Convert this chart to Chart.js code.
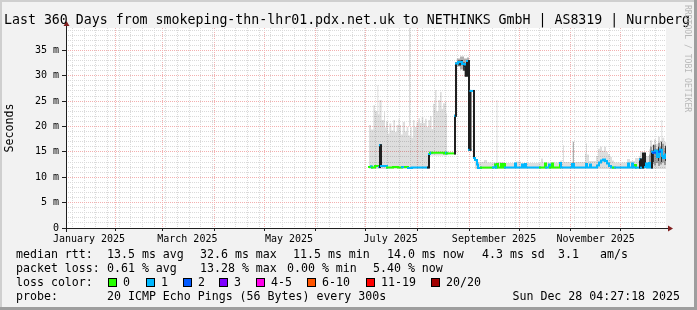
<!DOCTYPE html>
<html>
<head>
<meta charset="utf-8">
<script src="https://cdn.jsdelivr.net/npm/chart.js@4/dist/chart.umd.min.js"></script>
<style>
  html, body { margin: 0; padding: 0; background: #f2f2f2; }
  #wrap { width: 697px; height: 310px; }
</style>
</head>
<body>
<div id="wrap"><canvas id="smokeChart" width="697" height="310"></canvas></div>
<script>
// x values are days since the start of the window (Jan 2 2025 04:27:18), y in ms

// median rtt, coloured by loss (count of lost pings out of 20)
const medDay  = [181.8, 183.0, 183.6, 185.4, 187.8, 188.4, 188.4, 189.0, 189.0, 192.6, 196.2, 199.2, 201.6, 203.4, 205.2, 207.6, 217.2, 217.8,
                 218.4, 219.0, 219.6, 226.8, 228.0, 228.6, 233.4, 233.4, 234.0, 234.0, 235.2, 237.6, 239.4, 240.0, 240.6,
                 241.8, 241.8, 242.7, 242.7, 244.8, 244.8, 245.4, 246.6, 247.2, 249.0, 256.2, 257.4, 258.0, 258.6, 259.2, 261.0, 261.6,
                 262.8, 263.4, 269.4, 270.0, 273.6, 274.2, 275.4, 276.0, 284.4, 287.4, 288.0, 289.8, 290.4, 291.6, 292.2, 296.4, 297.0,
                 303.6, 304.8, 312.0, 312.6, 314.4, 315.0, 318.6, 319.8, 321.0, 322.2, 323.4, 324.6, 325.8, 327.0, 328.2, 329.4, 337.2,
                 337.8, 339.6, 340.2, 341.4, 342.0, 344.4, 344.4, 345.0, 345.0, 346.2, 346.2, 347.4, 348.0, 348.6, 349.8, 350.4, 351.6,
                 351.6, 352.2, 353.4, 354.6, 355.8, 356.4, 357.6, 358.2, 359.4, 360.4];
const medRtt  = [12.0, 12.1, 11.9, 12.2, 12.0, 12.0, 16.3, 16.3, 12.2, 11.9, 12.0, 11.9, 12.0, 12.0, 11.8, 11.9, 11.9, 14.6,
                 14.8, 14.8, 14.8, 14.7, 14.8, 14.7, 14.7, 22.1, 22.1, 32.4, 32.7, 32.3, 31.8, 30.0, 32.9,
                 32.9, 15.4, 15.4, 27.0, 27.0, 13.8, 13.4, 12.5, 11.8, 11.9, 11.9, 12.5, 11.9, 12.6, 11.9, 12.6, 11.9,
                 12.6, 11.9, 12.7, 11.9, 12.5, 11.9, 12.6, 11.9, 11.9, 12.7, 11.9, 12.5, 11.9, 12.7, 11.9, 12.8, 11.9,
                 12.6, 11.9, 12.6, 11.9, 12.5, 11.9, 12.3, 12.9, 13.3, 13.5, 13.2, 12.7, 12.2, 11.9, 11.9, 11.9, 12.7,
                 11.9, 12.7, 11.9, 12.4, 11.9, 11.9, 13.5, 13.5, 11.9, 11.9, 14.7, 12.0, 12.7, 11.9, 12.8, 11.9, 11.9,
                 15.0, 14.8, 15.2, 14.0, 15.0, 15.4, 14.2, 13.8, 14.5, 14.5];
const medLoss = [0, 1, 0, 0, 1, 1, 1, 1, 1, 0, 0, 0, 1, 0, 1, 1, 1, 1,
                 0, 1, 0, 0, 1, 0, 0, 1, 1, 1, 1, 1, 1, 0, 1,
                 1, 1, 1, 1, 1, 1, 1, 1, 1, 0, 1, 0, 1, 0, 0, 0, 0,
                 0, 1, 1, 1, 1, 1, 1, 1, 0, 0, 1, 1, 0, 0, 0, 1, 1,
                 1, 1, 1, 1, 1, 1, 1, 1, 1, 1, 1, 1, 1, 1, 0, 1, 1,
                 1, 1, 1, 0, 1, 1, 1, 1, 1, 1, 1, 1, 1, 1, 1, 1, 1,
                 1, 2, 1, 1, 2, 1, 1, 1, 1, 1];

// light smoke (spread of all pings)
const lightDay = [181.8, 183.0, 184.4, 185.4, 186.8, 187.4, 188.0, 189.4, 190.8, 191.4, 192.0, 193.2, 194.0, 195.2, 196.4, 197.4,
                  198.4, 199.5, 200.1, 201.0, 202.0, 203.4, 204.4, 205.4, 206.6, 207.4, 208.2, 209.1, 210.3, 211.4, 212.4, 213.4,
                  214.4, 215.4, 216.4, 217.4, 218.4, 219.4, 220.2, 221.4, 222.3, 223.4, 224.4, 225.4, 226.2, 227.4, 228.2, 228.8, 229.0,
                  245.4, 247.2, 250.8, 252.6, 258.3, 258.9, 263.4, 270.0, 273.0, 285.0, 286.2, 296.4, 297.6, 298.2, 298.8, 304.8,
                  311.4, 312.0, 312.6, 313.8, 318.0, 319.2, 320.4, 321.6, 322.8, 324.0, 325.2, 326.4, 327.6, 328.8, 336.6, 338.4,
                  341.4, 343.8, 344.4, 345.6, 347.4, 349.8, 350.4, 351.6, 352.8, 354.0, 355.2, 356.4, 357.2, 357.8, 359.0, 360.0, 360.6];
const lightLo  = [11.6, 11.6, 11.6, 11.6, 11.6, 11.6, 11.6, 11.6, 11.6, 11.6, 11.6, 11.6, 11.6, 11.6, 11.6, 11.6,
                  11.6, 11.6, 11.6, 11.6, 11.6, 11.6, 11.6, 11.6, 11.6, 11.6, 11.6, 11.6, 11.6, 11.6, 11.6, 11.6,
                  11.6, 11.6, 11.6, 11.6, 14.3, 14.3, 14.3, 14.3, 14.3, 14.3, 14.3, 14.3, 14.3, 14.3, 14.3, 14.3, null,
                  11.6, 11.6, 11.6, 11.6, 11.6, 11.6, 11.6, 11.6, 11.6, 11.6, 11.6, 11.6, 11.6, 11.6, 11.6, 11.6,
                  11.6, 11.6, 11.6, 11.6, 11.6, 11.6, 11.6, 11.6, 11.6, 11.6, 11.6, 11.6, 11.6, 11.6, 11.6, 11.6,
                  11.6, 11.6, 11.6, 11.6, 11.6, 11.6, 11.6, 11.6, 11.6, 11.6, 11.6, 11.6, 11.6, 11.6, 11.6, 11.6, 11.6];
const lightHi  = [20.3, 19.4, 24.2, 23.0, 28.1, 22.4, 25.2, 21.3, 22.9, 19.8, 21.0, 18.6, 20.6, 19.2, 21.3, 18.9,
                  20.3, 21.5, 20.3, 18.4, 20.9, 19.0, 19.9, 18.2, 19.9, 17.8, 21.3, 19.9, 20.8, 21.6, 20.7, 21.9,
                  20.7, 21.5, 19.9, 21.3, 22.0, 19.5, 24.5, 27.2, 23.0, 25.2, 26.8, 23.5, 24.6, 24.9, 22.6, 22.6, null,
                  13.6, 13.0, 13.4, 12.9, 25.2, 13.0, 12.8, 13.1, 12.8, 13.7, 12.9, 13.3, 13.0, 16.3, 13.0, 13.0,
                  14.7, 16.7, 14.5, 13.2, 14.2, 15.6, 16.0, 15.2, 16.0, 15.0, 14.6, 14.0, 13.3, 12.9, 13.6, 13.2,
                  13.8, 14.2, 15.0, 13.8, 14.2, 15.5, 17.3, 16.4, 17.5, 16.6, 18.0, 17.2, 21.3, 17.8, 17.0, 16.4, 16.4];

// medium smoke
const midDay = [206.0, 206.6, 206.7, 234.4, 236.4, 238.8, 240.6, 241.8, 241.9,
                349.8, 350.4, 351.6, 352.8, 354.0, 355.2, 356.4, 357.6, 358.8, 360.0, 360.6];
const midLo  = [20.0, 20.0, null, 31.8, 31.2, 29.8, 31.6, 31.6, null,
                12.4, 12.2, 12.6, 12.3, 12.8, 12.2, 12.5, 12.9, 12.4, 12.6, 12.6];
const midHi  = [39.4, 39.4, null, 33.4, 33.8, 33.4, 33.6, 33.6, null,
                14.5, 16.0, 15.2, 16.4, 15.6, 16.8, 16.0, 16.6, 15.8, 16.0, 16.0];

// dense smoke near the median
const darkDay = [235.2, 237.0, 238.2, 239.4, 239.5, 296.4, 297.0, 297.1, 304.0, 304.6, 304.7,
                 352.2, 352.8, 352.9, 355.2, 355.8, 355.9, 357.0, 357.6, 357.7, 359.4, 360.0];
const darkLo  = [32.0, 32.2, 31.0, 31.0, null, 12.0, 12.0, null, 12.0, 12.0, null,
                 13.0, 13.0, null, 13.2, 13.2, null, 13.0, 13.0, null, 13.2, 13.2];
const darkHi  = [33.0, 33.1, 32.6, 32.6, null, 13.0, 13.0, null, 17.0, 17.0, null,
                 16.4, 16.4, null, 16.0, 16.0, null, 17.0, 17.0, null, 16.2, 16.2];

const lossColors = ['#26ff00', '#00b8ff', '#0059ff', '#7e00ff', '#ff00ea', '#ff5500', '#ff0000', '#a10000'];
const lossLabels = ['0', '1', '2', '3', '4-5', '6-10', '11-19', '20/20'];

// axis labels
const startMs = Date.UTC(2025, 0, 2, 4, 27, 18);
const dayOf = (m, d) => (Date.UTC(2025, m, d) - startMs) / 864e5;
const xLabelText = ['January 2025', 'March 2025', 'May 2025', 'July 2025', 'September 2025', 'November 2025'];
const xLabelDay = [0, 2, 4, 6, 8, 10].map(m => dayOf(m, 16));
const monthLines = [1, 2, 3, 4, 5, 6, 7, 8, 9, 10, 11].map(m => dayOf(m, 1));
const weekLines = [];
for (let d = dayOf(0, 6); d < 360; d += 7) weekLines.push(d);

const GRID = '#dadada';
const MGRID = '#f3b0b0';
const AXIS = '#1f1f1f';
const ARROW = '#801f1f';
const MONO = '"DejaVu Sans Mono", monospace';

const xKind = new Map();
weekLines.forEach(d => xKind.set(d.toFixed(2), 'week'));
monthLines.forEach(d => xKind.set(d.toFixed(2), 'month'));
xLabelDay.forEach((d, i) => xKind.set(d.toFixed(2), 'label' + i));
const kindOf = v => xKind.get(v.toFixed(2)) || '';

function pts(days, vals) {
  return days.map((x, i) => ({ x: x, y: vals[i] }));
}

const frame = {
  id: 'frame',
  beforeDraw(chart) {
    const c = chart.ctx, a = chart.chartArea, W = chart.width, H = chart.height;
    c.save();
    c.fillStyle = '#f2f2f2';
    c.fillRect(0, 0, W, H);
    c.fillStyle = '#cfcfcf';
    c.fillRect(0, 0, W, 2);
    c.fillRect(0, 0, 2, H);
    c.fillStyle = '#9e9e9e';
    c.fillRect(0, H - 3, W, 3);
    c.fillRect(W - 3, 0, 3, H);
    c.fillStyle = '#ffffff';
    c.fillRect(a.left, a.top, a.right - a.left, a.bottom - a.top);
    c.restore();
  },
  afterDraw(chart) {
    const c = chart.ctx, a = chart.chartArea;
    c.save();
    // axes
    c.strokeStyle = AXIS;
    c.lineWidth = 1;
    c.beginPath();
    c.moveTo(a.left - 4, a.bottom + 0.5);
    c.lineTo(a.right + 3, a.bottom + 0.5);
    c.moveTo(a.left + 0.5, a.bottom + 4);
    c.lineTo(a.left + 0.5, a.top - 3);
    c.stroke();
    c.fillStyle = ARROW;
    c.beginPath();
    c.moveTo(a.right + 2, a.bottom - 2.5);
    c.lineTo(a.right + 7, a.bottom + 0.5);
    c.lineTo(a.right + 2, a.bottom + 3.5);
    c.closePath();
    c.fill();
    c.beginPath();
    c.moveTo(a.left - 2.5, a.top - 2);
    c.lineTo(a.left + 0.5, a.top - 7);
    c.lineTo(a.left + 3.5, a.top - 2);
    c.closePath();
    c.fill();

    // title
    c.fillStyle = '#000';
    c.textBaseline = 'alphabetic';
    c.textAlign = 'left';
    c.font = '13.25px ' + MONO;
    c.fillText('Last 360 Days from smokeping-thn-lhr01.pdx.net.uk to NETHINKS GmbH | AS8319 | Nurnberg', 4, 23.5);

    // legend
    c.font = '11.6px ' + MONO;
    const row = (y, items) => items.forEach(([x, t]) => c.fillText(t, x, y));
    row(258, [[16, 'median rtt:'], [107, '13.5 ms avg'], [200, '32.6 ms max'], [293, '11.5 ms min'],
              [387, '14.0 ms now'], [482, '4.3 ms sd'], [558, '3.1'], [600, 'am/s']]);
    row(272, [[16, 'packet loss:'], [107, '0.61 % avg'], [200, '13.28 % max'], [287, '0.00 % min'], [373, '5.40 % now']]);
    row(286, [[16, 'loss color:']]);
    const boxX = [108, 146, 183, 219, 256, 307, 366, 431];
    boxX.forEach((x, i) => {
      c.fillStyle = lossColors[i];
      c.fillRect(x, 278, 8, 8);
      c.strokeStyle = '#000';
      c.strokeRect(x + 0.5, 278.5, 8, 8);
      c.fillStyle = '#000';
      c.fillText(lossLabels[i], x + 15, 286);
    });
    row(300, [[16, 'probe:'], [107, '20 ICMP Echo Pings (56 Bytes) every 300s']]);
    c.textAlign = 'right';
    c.fillText('Sun Dec 28 04:27:18 2025', 680, 300);

    // watermark
    c.translate(687, 5);
    c.rotate(Math.PI / 2);
    c.textAlign = 'left';
    c.textBaseline = 'middle';
    c.fillStyle = '#b8b8b8';
    c.font = '8.1px ' + MONO;
    c.fillText('RRDTOOL / TOBI OETIKER', 0, 0);
    c.restore();
  }
};

const band = (order, fillColor) => ({
  order: order, stepped: true, pointRadius: 0, borderWidth: 0, spanGaps: false,
  borderColor: 'rgba(0,0,0,0)', backgroundColor: fillColor
});

new Chart(document.getElementById('smokeChart'), {
  type: 'line',
  data: {
    datasets: [
      {
        label: 'median', data: pts(medDay, medRtt), order: 0, stepped: true, pointRadius: 0,
        borderWidth: 2, borderCapStyle: 'square', borderJoinStyle: 'miter', fill: false,
        borderColor: lossColors[0],
        segment: {
          borderColor: s => (s.p0.parsed.x === s.p1.parsed.x || Math.abs(s.p1.parsed.y - s.p0.parsed.y) > 1.5)
            ? AXIS : lossColors[medLoss[s.p0DataIndex]]
        }
      },
      Object.assign(band(1, 'rgba(0,0,0,0)'), { data: pts(darkDay, darkLo), fill: false }),
      Object.assign(band(1, 'rgba(25,25,25,0.8)'), { data: pts(darkDay, darkHi), fill: '-1' }),
      Object.assign(band(2, 'rgba(0,0,0,0)'), { data: pts(midDay, midLo), fill: false }),
      Object.assign(band(2, 'rgba(60,60,60,0.4)'), { data: pts(midDay, midHi), fill: '-1' }),
      Object.assign(band(3, 'rgba(0,0,0,0)'), { data: pts(lightDay, lightLo), fill: false }),
      Object.assign(band(3, 'rgba(0,0,0,0.13)'), { data: pts(lightDay, lightHi), fill: '-1' })
    ]
  },
  options: {
    responsive: false,
    maintainAspectRatio: false,
    devicePixelRatio: 1,
    animation: false,
    events: [],
    layout: { padding: { left: 0, top: 28, right: 31, bottom: 0 } },
    plugins: { legend: { display: false }, tooltip: { enabled: false }, title: { display: false } },
    scales: {
      x: {
        type: 'linear', min: 0, max: 360,
        afterBuildTicks: s => {
          s.ticks = [...xKind.keys()].map(Number).sort((p, q) => p - q).map(v => ({ value: v }));
        },
        afterFit: s => { s.height = 82; },
        border: { display: false, dash: [1, 1] },
        grid: {
          lineWidth: 1,
          color: c => { const k = kindOf(c.tick.value); return k === 'month' ? MGRID : k === 'week' ? GRID : 'rgba(0,0,0,0)'; },
          tickColor: c => kindOf(c.tick.value) === 'month' ? AXIS : 'rgba(0,0,0,0)',
          tickLength: 3
        },
        ticks: {
          autoSkip: false, maxRotation: 0, padding: 2, color: '#000',
          font: { family: MONO, size: 10 },
          callback: v => { const k = kindOf(v); return k.startsWith('label') ? xLabelText[+k.slice(5)] : ''; }
        }
      },
      y: {
        type: 'linear', min: 0, max: 39.4,
        afterBuildTicks: s => {
          const t = [];
          for (let v = 0; v <= 39; v++) t.push({ value: v });
          s.ticks = t;
        },
        afterFit: s => { s.width = 66; },
        border: { display: false, dash: [1, 1] },
        grid: {
          lineWidth: 1,
          color: c => c.tick.value % 5 === 0 ? MGRID : GRID,
          tickColor: c => c.tick.value % 5 === 0 ? AXIS : 'rgba(0,0,0,0)',
          tickLength: 4
        },
        ticks: {
          autoSkip: false, padding: 3, color: '#000',
          font: { family: MONO, size: 10 },
          callback: v => v % 5 === 0 ? (v === 0 ? '0' : v + ' m') : ''
        },
        title: {
          display: true, text: 'Seconds', color: '#000',
          font: { family: MONO, size: 11.6 }, padding: { top: 3, bottom: 0 }
        }
      }
    }
  },
  plugins: [frame]
});
</script>
</body>
</html>
